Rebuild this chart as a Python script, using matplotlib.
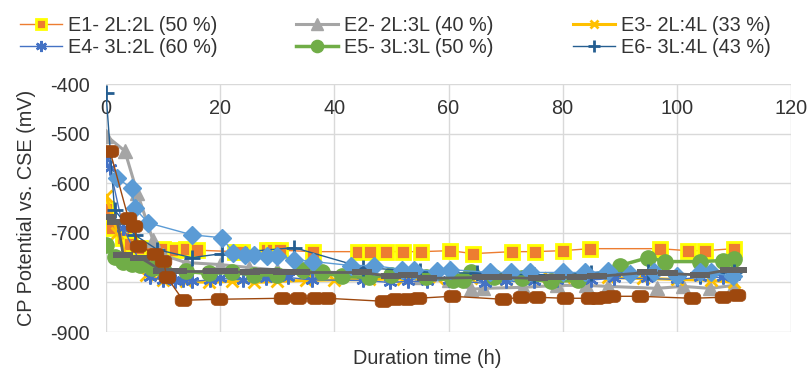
import matplotlib
matplotlib.use("Agg")
import numpy as np
import matplotlib.pyplot as plt
from matplotlib.markers import MarkerStyle
from matplotlib.transforms import Affine2D
from matplotlib.path import Path

plt.rcParams['font.family'] = ['Liberation Sans', 'DejaVu Sans']
plt.rcParams['axes.unicode_minus'] = False

# ---------------- data ----------------
labels = ["E1- 2L:2L (50 %)", "E2- 2L:3L (40 %)", "E3- 2L:4L (33 %)",
          "E4- 3L:2L (60 %)", "E5- 3L:3L (50 %)", "E6- 3L:4L (43 %)"]

t_e1 = [0, 1, 3, 4.2, 6, 8, 10, 12, 14, 16, 22.6, 23.8, 28.2, 29.3, 30.4, 36.3, 44.1, 46.2, 49, 52,
        55.2, 60.3, 64.3, 71.1, 75.1, 80, 84.8, 97, 101.9, 105, 110]
v_e1 = [-652, -690, -710, -722, -730, -735, -732, -735, -732, -735, -738, -738, -735, -735, -735, -738,
        -738, -738, -738, -738, -738, -736, -742, -738, -738, -736, -732, -732, -736, -736, -732]

t_e2 = [0, 3.3, 5.5, 8.2, 10, 14, 20, 25, 30, 36, 44, 50, 55, 60, 64, 66, 73, 79, 84, 88, 96.5, 101, 105.8, 110]
v_e2 = [-504, -535, -620, -714, -745, -760, -764, -770, -775, -778, -782, -786, -790, -795, -814, -812,
        -810, -806, -806, -808, -812, -808, -812, -806]

t_e3 = [0, 2, 4, 7, 10, 14, 18, 22, 26, 30, 35, 40, 46, 52, 58, 64, 70, 76, 82, 88, 94, 100, 106, 110]
v_e3 = [-625, -700, -760, -785, -795, -798, -800, -798, -800, -798, -796, -795, -794, -793, -792, -792,
        -794, -792, -790, -790, -792, -794, -796, -800]

t_e4 = [0, 0.7, 3, 6, 7.7, 10, 12, 13.5, 15, 18.2, 20, 24, 28, 31.9, 36, 45, 49.7, 52.9, 56.2, 60, 66.4,
        70, 75, 79, 85, 89, 94.7, 100, 104, 108, 110]
v_e4 = [-552, -570, -690, -760, -790, -795, -798, -795, -798, -795, -792, -795, -792, -790, -795, -796,
        -800, -798, -798, -795, -802, -798, -798, -796, -795, -792, -792, -794, -790, -790, -788]

t_e5 = [0, 1.5, 3, 4.5, 6, 8, 10, 14, 18, 22, 26, 30, 34.5, 37.8, 41.3, 46, 50, 56, 60.8, 62.5, 64, 68,
        72.8, 78, 82.6, 90, 95, 98, 104, 108, 110]
v_e5 = [-724, -748, -758, -762, -765, -770, -772, -778, -782, -780, -785, -785, -776, -780, -788, -790,
        -785, -790, -796, -796, -780, -790, -792, -798, -796, -766, -750, -758, -758, -756, -752]

t_e6 = [0, 1.5, 5, 9, 15, 20.3, 33, 45, 55, 65, 75, 85, 95, 104, 110]
v_e6 = [-418, -654, -704, -734, -750, -742, -730, -770, -778, -782, -785, -782, -780, -785, -780]

t_e7 = [2, 4.5, 5, 7.4, 15, 20.3, 22.3, 24.3, 26, 28.2, 30, 33, 36.3, 43, 47, 51.8, 54, 58, 60.2, 67.2,
        71, 74.2, 80, 83.9, 88, 91.8, 96, 100, 104, 106, 109.8]
v_e7 = [-590, -610, -650, -680, -704, -710, -740, -744, -744, -746, -746, -754, -758, -766, -766, -774,
        -774, -778, -774, -780, -780, -780, -780, -780, -778, -784, -780, -788, -780, -780, -788]

t_e8 = [0, 2, 3, 6, 10, 12.4, 18.7, 21.4, 25.2, 27.5, 28.7, 31, 34, 44.8, 50, 52.9, 56.2, 65.8, 69.4,
        75.7, 78.6, 82.5, 86, 94.8, 98.4, 104, 109.3, 110.5]
v_e8 = [-668, -678, -744, -750, -778, -778, -778, -778, -780, -778, -778, -780, -780, -780, -788, -785,
        -792, -790, -790, -792, -790, -790, -788, -780, -782, -785, -774, -774]

t_e9 = [0.7, 3.9, 4.9, 5.6, 8.6, 10, 10.7, 13.5, 19.8, 30.8, 33.6, 36.6, 38.7, 48.5, 50.6, 52.7, 54.6,
        60.6, 69.5, 72.7, 75.5, 80.4, 84.6, 86, 87.5, 88.6, 93.5, 102.6, 108, 110.5]
v_e9 = [-535, -670, -686, -726, -742, -756, -790, -836, -834, -832, -832, -832, -832, -838, -834, -834,
        -832, -828, -834, -830, -830, -832, -832, -832, -830, -828, -828, -832, -830, -826]

x_ticks = [0, 20, 40, 60, 80, 100, 120]
y_ticks = [-900, -800, -700, -600, -500, -400]


def rounded_rect_marker(w=1.4, h=1.0, r=0.38, n=8):
    pts = []
    corners = [(w / 2 - r, h / 2 - r, 0), (-w / 2 + r, h / 2 - r, 90),
               (-w / 2 + r, -h / 2 + r, 180), (w / 2 - r, -h / 2 + r, 270)]
    for cx, cy, a0 in corners:
        for a in np.linspace(np.radians(a0), np.radians(a0 + 90), n):
            pts.append((cx + r * np.cos(a), cy + r * np.sin(a)))
    pts.append(pts[0])
    return Path(pts, closed=True)


# ---------------- figure ----------------
W, H = 810, 371
fig = plt.figure(figsize=(W / 100, H / 100), dpi=100)
ax = fig.add_axes([106 / W, 1 - 332 / H, (791 - 106) / W, (332 - 84) / H])

txt_col = '#333333'
grid_col = '#D9D9D9'

star = MarkerStyle((6, 2, 0))
rounded = MarkerStyle(rounded_rect_marker())
dash = MarkerStyle('s', transform=Affine2D().scale(3.3, 1.0))

h1, = ax.plot(t_e1, v_e1, color='#ED7D31', lw=1.0, marker='s', ms=9.5, mfc='#ED7D31', mec='#FFFF00', mew=2.0)
h2, = ax.plot(t_e2, v_e2, color='#A5A5A5', lw=2.2, marker='^', ms=10, mfc='#A5A5A5', mec='#A5A5A5')
h3, = ax.plot(t_e3, v_e3, color='#FFC000', lw=2.2, marker='x', ms=8, mec='#FFC000', mew=2.0)
h4, = ax.plot(t_e4, v_e4, color='#4472C4', lw=1.0, marker=star, ms=10, mec='#4472C4', mew=1.8)
h5, = ax.plot(t_e5, v_e5, color='#70AD47', lw=2.5, marker='o', ms=11, mfc='#70AD47', mec='#70AD47')
h6, = ax.plot(t_e6, v_e6, color='#255E91', lw=1.0, marker='+', ms=11, mec='#255E91', mew=2.0)
ax.plot(t_e7, v_e7, color='#5B9BD5', lw=1.0, marker='D', ms=9.5, mfc='#5B9BD5', mec='#5B9BD5')
ax.plot(t_e8, v_e8, color='#636363', lw=2.0, marker=dash, ms=4.5, mfc='#636363', mew=0)
ax.plot(t_e9, v_e9, color='#9E480E', lw=1.0, marker=rounded, ms=12, mfc='#9E480E', mec='#9E480E', mew=0.5)

ax.set_xlim(0, 120)
ax.set_ylim(-900, -400)
ax.set_xticks(x_ticks)
ax.set_yticks(y_ticks)
ax.grid(True, color=grid_col, lw=1.0)
ax.set_axisbelow(True)
for s in ax.spines.values():
    s.set_visible(False)
ax.tick_params(axis='y', length=0, pad=11.5, labelsize=14.3, labelcolor=txt_col)
ax.tick_params(axis='x', length=0, labeltop=True, labelbottom=False, pad=-24.5,
               labelsize=14.3, labelcolor=txt_col)

fig.text(26 / W, 1 - 208 / H, "CP Potential vs. CSE (mV)", rotation=90, ha='center', va='center',
         fontsize=14.3, color=txt_col)
fig.text(427 / W, 1 - 359 / H, "Duration time (h)", ha='center', va='center',
         fontsize=14.3, color=txt_col)

# legend: three columns of two rows
cols = [([h1, h4], [labels[0], labels[3]], 20),
        ([h2, h5], [labels[1], labels[4]], 296),
        ([h3, h6], [labels[2], labels[5]], 573)]
for hs, ls, x0 in cols:
    leg = fig.legend(hs, ls, loc='upper left', bbox_to_anchor=(x0 / W, 1 - 16 / H),
                     frameon=False, borderpad=0, borderaxespad=0, handlelength=2.1,
                     handletextpad=0.3, labelspacing=0.15, fontsize=14.3, markerscale=0.8)
    for t in leg.get_texts():
        t.set_color(txt_col)

fig.savefig("out.png", dpi=100)
